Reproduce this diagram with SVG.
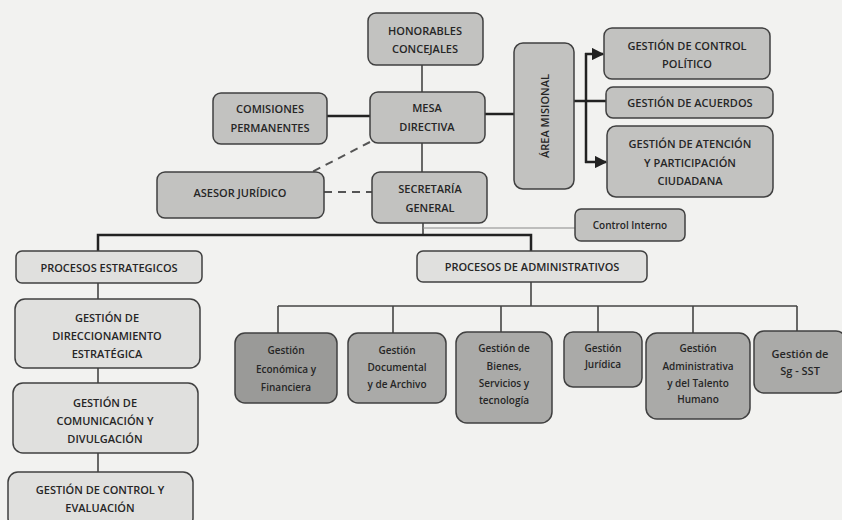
<svg xmlns="http://www.w3.org/2000/svg" width="842" height="520" viewBox="0 0 842 520">
<style>
  .bg { fill: #f2f2f0; }
  .box { stroke: #404040; stroke-width: 1.5; }
  .mid { fill: #c2c2c0; }
  .light { fill: #e0e0de; }
  .dark { fill: #aaaaa8; }
  .darker { fill: #9a9a98; }
  text { font-family: "Open Sans", "Liberation Sans", sans-serif; font-weight: 600; fill: #262626; text-anchor: middle; dominant-baseline: central; }
  .cap { font-size: 11px; }
  .sm { font-size: 10px; }
  .ln { fill: none; stroke: #444; stroke-width: 1.6; }
  .thick { fill: none; stroke: #222; stroke-width: 2.5; }
  .thin { fill: none; stroke: #888; stroke-width: 1; }
  .dash { fill: none; stroke: #555; stroke-width: 2; stroke-dasharray: 8 6; }
</style>
<defs>
  <marker id="arr" viewBox="0 0 10 10" refX="9" refY="5" markerWidth="5" markerHeight="5" orient="auto">
    <path d="M0,0 L10,5 L0,10 z" fill="#222"/>
  </marker>
</defs>
<rect class="bg" x="0" y="0" width="842" height="520"/>

<g id="connectors">
  <line class="ln" x1="422" y1="65" x2="422" y2="92"/>
  <line class="thick" x1="327" y1="116" x2="370" y2="116"/>
  <line class="thick" x1="485" y1="114" x2="514" y2="114"/>
  <line class="ln" x1="422" y1="143" x2="422" y2="172"/>
  <line class="dash" x1="370" y1="142" x2="312" y2="172"/>
  <line class="dash" x1="324" y1="192" x2="372" y2="192"/>
  <line class="thick" x1="574" y1="101" x2="606" y2="101"/>
  <line class="thick" x1="586" y1="53" x2="586" y2="163"/>
  <line class="thick" x1="585" y1="54" x2="603" y2="54" marker-end="url(#arr)"/>
  <line class="thick" x1="585" y1="162" x2="606" y2="162" marker-end="url(#arr)"/>
  <line class="ln" x1="423" y1="223" x2="423" y2="235"/>
  <line class="thin" x1="423" y1="228" x2="575" y2="228"/>
  <polyline class="thick" points="98,251 98,235 531,235 531,251"/>
  <line class="ln" x1="98" y1="283" x2="98" y2="299"/>
  <line class="ln" x1="98" y1="368" x2="98" y2="383"/>
  <line class="ln" x1="98" y1="453" x2="98" y2="472"/>
  <line class="ln" x1="531" y1="282" x2="531" y2="306"/>
  <line class="ln" x1="278" y1="306" x2="797" y2="306"/>
  <line class="ln" x1="278" y1="306" x2="278" y2="333"/>
  <line class="ln" x1="393" y1="306" x2="393" y2="333"/>
  <line class="ln" x1="501" y1="306" x2="501" y2="332"/>
  <line class="ln" x1="598" y1="306" x2="598" y2="332"/>
  <line class="ln" x1="693" y1="306" x2="693" y2="333"/>
  <line class="ln" x1="797" y1="306" x2="797" y2="331"/>
</g>

<g id="honorables">
  <rect class="box mid" x="368" y="13" width="115" height="52" rx="8"/>
  <text class="cap" x="425" y="30">HONORABLES</text>
  <text class="cap" x="425" y="48">CONCEJALES</text>
</g>
<g id="comisiones">
  <rect class="box mid" x="213" y="93" width="114" height="51" rx="8"/>
  <text class="cap" x="270" y="108">COMISIONES</text>
  <text class="cap" x="270" y="127">PERMANENTES</text>
</g>
<g id="mesa">
  <rect class="box mid" x="370" y="92" width="115" height="51" rx="8"/>
  <text class="cap" x="427" y="107">MESA</text>
  <text class="cap" x="427" y="126">DIRECTIVA</text>
</g>
<g id="secretaria">
  <rect class="box mid" x="372" y="172" width="115" height="51" rx="8"/>
  <text class="cap" x="430" y="188">SECRETARÍA</text>
  <text class="cap" x="430" y="207">GENERAL</text>
</g>
<g id="asesor">
  <rect class="box mid" x="157" y="172" width="167" height="46" rx="8"/>
  <text class="cap" x="240" y="192">ASESOR JURÍDICO</text>
</g>
<g id="area-misional">
  <rect class="box mid" x="514" y="43" width="60" height="146" rx="9"/>
  <text class="cap" x="544" y="116" transform="rotate(-90 544 116)">ÁREA MISIONAL</text>
</g>
<g id="control-politico">
  <rect class="box mid" x="604" y="28" width="166" height="51" rx="8"/>
  <text class="cap" x="687" y="45">GESTIÓN DE CONTROL</text>
  <text class="cap" x="687" y="63">POLÍTICO</text>
</g>
<g id="acuerdos">
  <rect class="box mid" x="606" y="87" width="167" height="31" rx="7"/>
  <text class="cap" x="690" y="102">GESTIÓN DE ACUERDOS</text>
</g>
<g id="atencion">
  <rect class="box mid" x="607" y="126" width="166" height="71" rx="9"/>
  <text class="cap" x="690" y="143">GESTIÓN DE ATENCIÓN</text>
  <text class="cap" x="690" y="162">Y PARTICIPACIÓN</text>
  <text class="cap" x="690" y="180">CIUDADANA</text>
</g>
<g id="control-interno">
  <rect class="box mid" x="575" y="209" width="110" height="32" rx="6"/>
  <text class="sm" x="630" y="225">Control Interno</text>
</g>
<g id="procesos-estrategicos">
  <rect class="box light" x="16" y="251" width="186" height="32" rx="6"/>
  <text class="cap" x="109" y="267">PROCESOS ESTRATEGICOS</text>
</g>
<g id="direccionamiento">
  <rect class="box light" x="15" y="299" width="185" height="69" rx="10"/>
  <text class="cap" x="107" y="317">GESTIÓN DE</text>
  <text class="cap" x="107" y="335">DIRECCIONAMIENTO</text>
  <text class="cap" x="107" y="353">ESTRATÉGICA</text>
</g>
<g id="comunicacion">
  <rect class="box light" x="13" y="383" width="185" height="70" rx="10"/>
  <text class="cap" x="105" y="402">GESTIÓN DE</text>
  <text class="cap" x="105" y="420">COMUNICACIÓN Y</text>
  <text class="cap" x="105" y="438">DIVULGACIÓN</text>
</g>
<g id="control-evaluacion">
  <rect class="box light" x="8" y="472" width="185" height="56" rx="10"/>
  <text class="cap" x="100" y="489">GESTIÓN DE CONTROL Y</text>
  <text class="cap" x="100" y="507">EVALUACIÓN</text>
</g>
<g id="procesos-administrativos">
  <rect class="box light" x="417" y="251" width="230" height="31" rx="6"/>
  <text class="cap" x="532" y="266">PROCESOS DE ADMINISTRATIVOS</text>
</g>
<g id="economica">
  <rect class="box darker" x="235" y="333" width="102" height="70" rx="10"/>
  <text class="sm" x="286" y="350">Gestión</text>
  <text class="sm" x="286" y="369">Económica y</text>
  <text class="sm" x="286" y="387">Financiera</text>
</g>
<g id="documental">
  <rect class="box dark" x="348" y="333" width="98" height="70" rx="10"/>
  <text class="sm" x="397" y="350">Gestión</text>
  <text class="sm" x="397" y="367">Documental</text>
  <text class="sm" x="397" y="384">y de Archivo</text>
</g>
<g id="bienes">
  <rect class="box dark" x="456" y="332" width="96" height="91" rx="11"/>
  <text class="sm" x="504" y="348">Gestión de</text>
  <text class="sm" x="504" y="366">Bienes,</text>
  <text class="sm" x="504" y="383">Servicios y</text>
  <text class="sm" x="504" y="400">tecnología</text>
</g>
<g id="juridica">
  <rect class="box dark" x="564" y="332" width="78" height="55" rx="9"/>
  <text class="sm" x="603" y="348">Gestión</text>
  <text class="sm" x="603" y="364">Jurídica</text>
</g>
<g id="administrativa">
  <rect class="box dark" x="646" y="333" width="104" height="86" rx="11"/>
  <text class="sm" x="698" y="348">Gestión</text>
  <text class="sm" x="698" y="366">Administrativa</text>
  <text class="sm" x="698" y="383">y del Talento</text>
  <text class="sm" x="698" y="399">Humano</text>
</g>
<g id="sg-sst">
  <rect class="box dark" x="754" y="331" width="92" height="62" rx="10"/>
  <text class="cap" x="800" y="353">Gestión de</text>
  <text class="cap" x="800" y="370">Sg - SST</text>
</g>
</svg>
